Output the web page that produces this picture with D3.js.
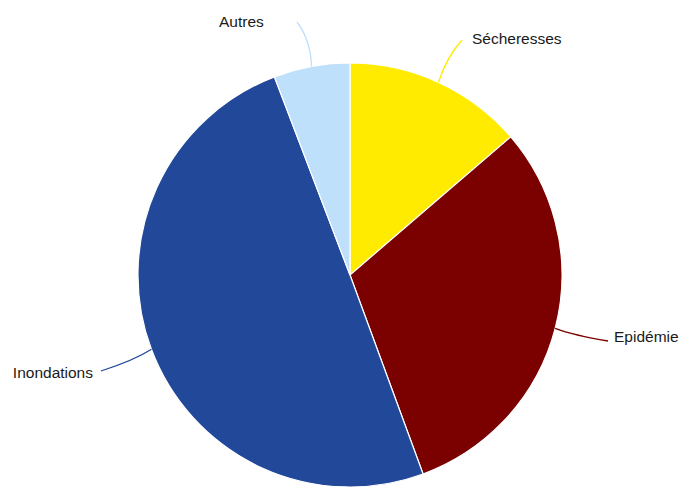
<!DOCTYPE html>
<html>
<head>
<meta charset="utf-8">
<script src="https://cdnjs.cloudflare.com/ajax/libs/d3/7.8.5/d3.min.js"></script>
<style>
  html, body { margin: 0; padding: 0; background: #fff; }
  #chart { width: 682px; height: 488px; }
  text { font-family: "Liberation Sans", Arial, sans-serif; font-size: 15.5px; fill: #1a1a1a; }
</style>
</head>
<body>
<div id="chart"></div>
<script>
// Data (share of events, %)
const categories = ["Sécheresses", "Epidémie", "Inondations", "Autres"];
const values = [13.7, 30.7, 49.8, 5.8];
const colors = ["#ffeb00", "#7b0000", "#22489a", "#bfe0fb"];

// Label placement (end of leader, text anchor point)
const labelEnds = [[462, 40], [608, 341], [101, 371], [297, 22]];
const labelPos = [[472, 44, "start"], [614, 342, "start"], [93, 378, "end"], [219, 27, "start"]];
// how much each leader bends (0 = straight)
const bend = [0.6, 0.55, 0.52, 0.6];

const width = 682;
const height = 488;
const cx = 350, cy = 275, radius = 212;

const svg = d3.select("#chart").append("svg")
    .attr("width", width)
    .attr("height", height);

const pie = d3.pie().sort(null).value(d => d);
const arcs = pie(values);

const arc = d3.arc().innerRadius(0).outerRadius(radius);

const g = svg.append("g").attr("transform", `translate(${cx},${cy})`);

g.selectAll("path")
    .data(arcs)
    .enter()
    .append("path")
    .attr("d", arc)
    .attr("fill", (d, i) => colors[i])
    .attr("stroke", "#fff")
    .attr("stroke-width", 1.2);

// Leader lines, slightly curved like the original
arcs.forEach((d, i) => {
    const a = (d.startAngle + d.endAngle) / 2;
    const x0 = cx + radius * Math.sin(a);
    const y0 = cy - radius * Math.cos(a);
    const [x1, y1] = labelEnds[i];
    const mx = x0 + (x1 - x0) * 0.35 + (i === 3 ? 4 : 0);
    const my = y0 + (y1 - y0) * bend[i];
    const p = d3.path();
    p.moveTo(x0, y0);
    p.quadraticCurveTo(mx, my, x1, y1);
    svg.append("path")
        .attr("d", p.toString())
        .attr("fill", "none")
        .attr("stroke", colors[i])
        .attr("stroke-width", 1.3);
});

svg.selectAll("text.label")
    .data(categories)
    .enter()
    .append("text")
    .attr("class", "label")
    .attr("x", (d, i) => labelPos[i][0])
    .attr("y", (d, i) => labelPos[i][1])
    .attr("text-anchor", (d, i) => labelPos[i][2])
    .text(d => d);
</script>
</body>
</html>
